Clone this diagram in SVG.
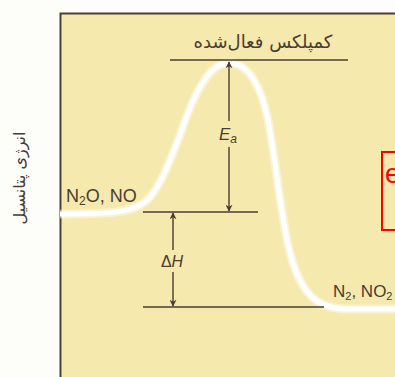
<svg xmlns="http://www.w3.org/2000/svg" width="395" height="377" viewBox="0 0 395 377">
<style>
.lvl{stroke:#4a3c32;stroke-width:1.6;fill:none}
.arr{stroke:#4a3c32;stroke-width:1.4;fill:none;marker-end:url(#ah)}
.lat{font-family:"Liberation Sans",Arial,sans-serif;fill:#4a3c32}
.ar{font-family:"DejaVu Sans",sans-serif;fill:#4a3c32}
</style>
<defs>
<marker id="ah" viewBox="0 0 10 10" refX="9" refY="5" markerWidth="7" markerHeight="7" markerUnits="userSpaceOnUse" orient="auto">
<path d="M0,0 L10,5 L0,10 L3,5 Z" fill="#4a3c32"/>
</marker>
</defs>
<rect width="395" height="377" fill="#fdfdfa"/>
<g id="frame">
<rect x="60.5" y="13.5" width="340" height="370" fill="#f5e9ad"/>
<path d="M60.5,377 V13.5 H395" stroke="#4a4038" stroke-width="2" fill="none"/>
</g>
<g id="curve">
<path d="M60,214 C110,214 130,213 145,202 C160,190 170,160 180,135 C195,90 210,63 229,63 C250,63 262,90 268,120 C276,160 282,230 292,260 C302,292 315,308 345,309 L395,309" stroke="#ffffff" stroke-opacity="0.45" stroke-width="9" fill="none"/>
<path d="M60,214 C110,214 130,213 145,202 C160,190 170,160 180,135 C195,90 210,63 229,63 C250,63 262,90 268,120 C276,160 282,230 292,260 C302,292 315,308 345,309 L395,309" stroke="#ffffff" stroke-width="5" fill="none"/>
</g>
<g id="levels">
<line class="lvl" x1="170" y1="60" x2="348" y2="60"/>
<line class="lvl" x1="143" y1="212" x2="258" y2="212"/>
<line class="lvl" x1="143" y1="307" x2="324" y2="307"/>
</g>
<g id="connectors">
<path class="arr" d="M229,121 V62"/>
<path class="arr" d="M229,147 V211"/>
<path class="arr" d="M173,250 V213"/>
<path class="arr" d="M173,272 V306"/>
</g>
<g id="labels">
<text class="ar" x="263" y="48" font-size="18" text-anchor="middle" direction="rtl">کمپلکس فعال‌شده</text>
<text class="lat" x="228" y="140" font-size="17" text-anchor="middle" font-style="italic">E<tspan font-size="12" dy="3">a</tspan></text>
<text class="lat" x="172" y="267" font-size="16" text-anchor="middle">Δ<tspan font-style="italic">H</tspan></text>
<text class="lat" x="66" y="202" font-size="18">N<tspan font-size="12" dy="3">2</tspan><tspan dy="-3">O, NO</tspan></text>
<text class="lat" x="333" y="297" font-size="17">N<tspan font-size="11" dy="3">2</tspan><tspan dy="-3">, NO</tspan><tspan font-size="11" dy="3">2</tspan></text>
<text class="ar" transform="translate(25,178) rotate(-90)" font-size="16" text-anchor="middle" direction="rtl">انرژی پتانسیل</text>
</g>
<g id="redbox">
<rect x="382" y="152" width="20" height="78" fill="none" stroke="#ff0000" stroke-width="2"/>
<text x="385" y="183" font-family="Liberation Sans,Arial,sans-serif" font-size="27" fill="#ff0000">e</text>
</g>
</svg>
